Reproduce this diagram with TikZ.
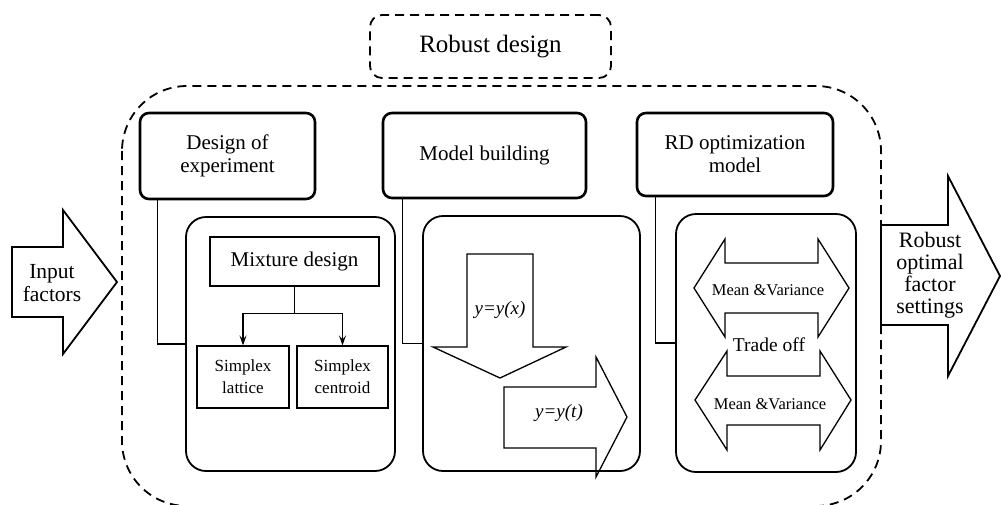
\documentclass[tikz,border=0pt]{standalone}
\usepackage{fontspec}
\setmainfont{Liberation Serif}
\usetikzlibrary{arrows.meta}

\tikzset{
  headbox/.style={draw,line width=2.6pt,rounded corners=9pt,align=center,font=\fontsize{21}{23}\selectfont},
  subbox/.style={draw,line width=1.8pt,rounded corners=20pt},
  plainbox/.style={draw,line width=1.2pt,align=center},
  thinline/.style={line width=1.2pt},
  blockarrow/.style={draw,line width=1.8pt,line join=miter},
  thinarrow/.style={draw,line width=1.3pt,line join=miter},
  dashedline/.style={dash pattern=on 9pt off 6pt,line width=1.8pt},
  splitarrow/.style={thinline,-{Stealth[length=10pt,width=7pt,inset=4pt]}},
}

\begin{document}
\begin{tikzpicture}[x=1pt,y=-1pt]
\useasboundingbox (0,0) rectangle (1001,504);

% frame
\node[draw,dashedline,rounded corners=12pt,minimum width=241pt,minimum height=63pt,font=\fontsize{25}{28}\selectfont] (robust) at (490.5,46.5) {Robust design};
\draw[dashedline,rounded corners=65pt] (122,86) rectangle (881,506);

% in and out
\draw[blockarrow] (12,247) -- (63,247) -- (63,210) -- (117,282) -- (63,354) -- (63,317) -- (12,317) -- cycle;
\node[align=center,font=\fontsize{21.5}{23}\selectfont] (input) at (52,283) {Input\\factors};
\draw[blockarrow] (881,225) -- (948,225) -- (948,176) -- (1000,276) -- (948,376) -- (948,325) -- (881,325) -- cycle;
\node[align=center,font=\fontsize{22}{22}\selectfont] (output) at (930,275) {Robust\\optimal\\factor\\settings};

% headers
\node[headbox,minimum width=175pt,minimum height=86pt] (doe) at (227.5,156) {Design of\\experiment};
\node[headbox,minimum width=203pt,minimum height=85pt] (model) at (484.5,155.5) {Model building};
\node[headbox,minimum width=196pt,minimum height=83pt] (opt) at (735,154.5) {RD optimization\\model};

% lower boxes
\node[subbox,minimum width=209pt,minimum height=254pt] (doebox) at (290.5,344) {};
\node[subbox,minimum width=217pt,minimum height=255pt] (modelbox) at (531.5,343.5) {};
\node[subbox,minimum width=180pt,minimum height=258pt] (optbox) at (766,343) {};

\draw[thinline] (doebox.west) -- ++(-28,0) coordinate (doetap) -- (doetap |- doe.south);
\draw[thinline] (modelbox.west) -- ++(-20,0) coordinate (modeltap) -- (modeltap |- model.south);
\draw[thinline] (optbox.west) -- ++(-20,0) coordinate (opttap) -- (opttap |- opt.south);

% design of experiment
\node[plainbox,minimum width=169pt,minimum height=49pt,font=\fontsize{21}{23}\selectfont] (mix) at (294.5,261.5) {Mixture design};
\node[plainbox,minimum width=92pt,minimum height=62pt,font=\fontsize{17}{22}\selectfont] (lattice) at (243,377) {Simplex\\lattice};
\node[plainbox,minimum width=91pt,minimum height=62pt,font=\fontsize{17}{22}\selectfont] (centroid) at (342.5,377) {Simplex\\centroid};
\draw[thinline] (mix.south) -- ++(0,27) coordinate (split);
\draw[splitarrow] (split) -| (lattice.north);
\draw[splitarrow] (split) -| (centroid.north);

% model building
\draw[thinarrow] (467,254) -- (533,254) -- (533,347) -- (566,347) -- (500,378) -- (433,347) -- (467,347) -- cycle;
\node[font=\itshape\fontsize{19}{22}\selectfont] (yx) at (500,310) {y=y(x)};
\draw[thinarrow] (504,387) -- (596,387) -- (596,357) -- (627,417) -- (596,477) -- (596,448) -- (504,448) -- cycle;
\node[font=\itshape\fontsize{19}{22}\selectfont] (yt) at (559,413) {y=y(t)};

% optimization
\draw[thinarrow] (694,288) -- (725,239) -- (725,263) -- (818,263) -- (818,239) -- (849,288) -- (818,337) -- (818,313) -- (725,313) -- (725,337) -- cycle;
\node[font=\fontsize{16.5}{20}\selectfont] (mv1) at (768,290) {Mean \&Variance};
\node[font=\fontsize{19.5}{22}\selectfont] (trade) at (769,345) {Trade off};
\draw[thinarrow] (695,400) -- (727,351) -- (727,376) -- (820,376) -- (820,351) -- (851,400) -- (820,450) -- (820,425) -- (727,425) -- (727,450) -- cycle;
\node[font=\fontsize{16.5}{20}\selectfont] (mv2) at (770,404) {Mean \&Variance};
\end{tikzpicture}
\end{document}
